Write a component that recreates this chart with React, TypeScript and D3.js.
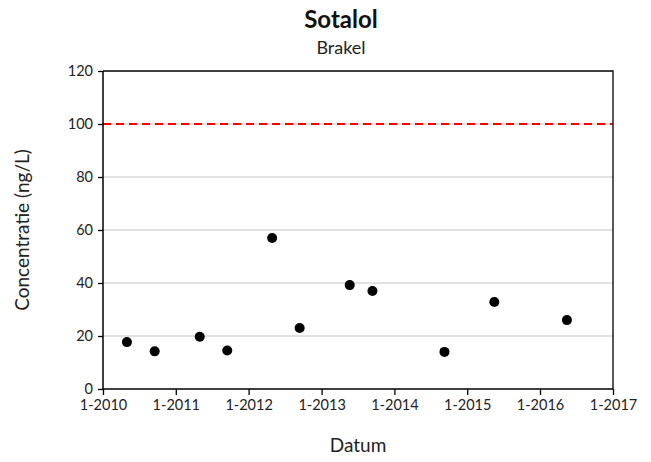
import * as d3 from 'd3'
import { useEffect, useRef } from 'react'

const fullWidth = 651
const fullHeight = 462
const margin = { top: 71, right: 38, bottom: 73, left: 103 }
const width = fullWidth - margin.left - margin.right
const height = fullHeight - margin.top - margin.bottom

// sample dates and measured concentrations (ng/L)
const dates = [
  '2010-05-01', '2010-09-17', '2011-05-01', '2011-09-16', '2012-04-28', '2012-09-13',
  '2013-05-22', '2013-09-13', '2014-09-09', '2015-05-17', '2016-05-15',
]
const values = [17.7, 14.2, 19.7, 14.5, 57.0, 23.0, 39.2, 37.0, 14.0, 32.8, 26.0]
const yTicks = [0, 20, 40, 60, 80, 100, 120]
const xTickYears = [2010, 2011, 2012, 2013, 2014, 2015, 2016, 2017]
const norm = 100

const font = 'Lato, "Open Sans", sans-serif'

export default function App() {
  const ref = useRef(null)

  useEffect(() => {
    const root = d3.select(ref.current)
    root.selectAll('*').remove()

    const svg = root
      .append('svg')
      .attr('width', fullWidth)
      .attr('height', fullHeight)
      .style('position', 'absolute')
      .style('left', 0)
      .style('top', 0)
      .style('background', '#fff')
      .style('font-family', font)

    const data = dates.map((d, i) => ({ date: new Date(d + 'T00:00:00'), value: values[i] }))

    const g = svg.append('g').attr('transform', `translate(${margin.left}, ${margin.top})`)

    const xScale = d3
      .scaleTime()
      .domain([new Date(2010, 0, 1), new Date(2017, 0, 1)])
      .range([0, width])
    const yScale = d3.scaleLinear().domain([0, 120]).range([height, 0])

    // gridlines
    g.selectAll('.grid')
      .data(yTicks.filter((t) => t > 0 && t < 120))
      .enter()
      .append('line')
      .attr('x1', 0)
      .attr('x2', width)
      .attr('y1', (d) => yScale(d))
      .attr('y2', (d) => yScale(d))
      .attr('stroke', '#d9d9d9')
      .attr('stroke-width', 1.3)

    // norm line
    g.append('line')
      .attr('x1', 0)
      .attr('x2', width)
      .attr('y1', yScale(norm))
      .attr('y2', yScale(norm))
      .attr('stroke', '#ff0000')
      .attr('stroke-width', 2)
      .attr('stroke-dasharray', '8,5')

    // frame top + right
    g.append('path')
      .attr('d', `M0,0H${width}V${height}`)
      .attr('fill', 'none')
      .attr('stroke', '#000')
      .attr('stroke-width', 1.3)

    // axes
    const yAxis = d3.axisLeft(yScale).tickValues(yTicks).tickSize(5).tickPadding(5)
    const yg = g.append('g').call(yAxis)
    const xAxis = d3
      .axisBottom(xScale)
      .tickValues(xTickYears.map((y) => new Date(y, 0, 1)))
      .tickFormat((d) => '1-' + d.getFullYear())
      .tickSize(6)
      .tickPadding(5)
    const xg = g.append('g').attr('transform', `translate(0, ${height})`).call(xAxis)

    ;[yg, xg].forEach((ax) => {
      ax.select('.domain').attr('stroke', '#000').attr('stroke-width', 1.5)
      ax.selectAll('.tick line').attr('stroke', '#000').attr('stroke-width', 1.3)
      ax.selectAll('.tick text')
        .attr('fill', '#222')
        .style('font-size', '14.5px')
        .style('font-family', font)
    })
    yg.select('.domain').attr('d', `M0,0V${height}`)
    xg.select('.domain').attr('d', `M0,0H${width}`)

    // points
    g.selectAll('circle')
      .data(data)
      .enter()
      .append('circle')
      .attr('cx', (d) => xScale(d.date))
      .attr('cy', (d) => yScale(d.value))
      .attr('r', 5)
      .attr('fill', '#000')

    // titles
    svg.append('text')
      .attr('x', 341)
      .attr('y', 28)
      .attr('text-anchor', 'middle')
      .style('font-size', '24px')
      .style('font-weight', 'bold')
      .attr('fill', '#111')
      .text('Sotalol')
    svg.append('text')
      .attr('x', 341)
      .attr('y', 54)
      .attr('text-anchor', 'middle')
      .style('font-size', '18px')
      .attr('fill', '#222')
      .text('Brakel')
    svg.append('text')
      .attr('x', margin.left + width / 2)
      .attr('y', 452)
      .attr('text-anchor', 'middle')
      .style('font-size', '19px')
      .attr('fill', '#222')
      .text('Datum')
    svg.append('text')
      .attr('transform', `translate(29, ${margin.top + height / 2}) rotate(-90)`)
      .attr('text-anchor', 'middle')
      .style('font-size', '19px')
      .attr('fill', '#222')
      .text('Concentratie (ng/L)')
  }, [])

  return <div ref={ref} />
}
